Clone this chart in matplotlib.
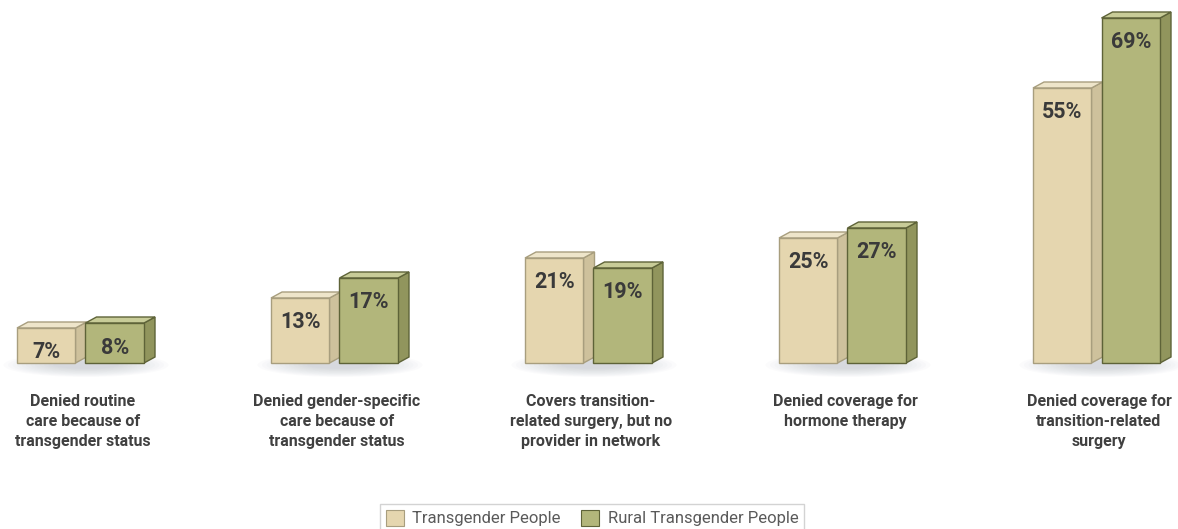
import matplotlib
matplotlib.use("Agg")
import matplotlib.pyplot as plt
from matplotlib.patches import Polygon, Ellipse, Patch
import numpy as np

categories = [
    "Denied routine\ncare because of\ntransgender status",
    "Denied gender-specific\ncare because of\ntransgender status",
    "Covers transition-\nrelated surgery, but no\nprovider in network",
    "Denied coverage for\nhormone therapy",
    "Denied coverage for\ntransition-related\nsurgery",
]
transgender = [7, 13, 21, 25, 55]
rural = [8, 17, 19, 27, 69]
series_names = ["Transgender People", "Rural Transgender People"]

FONT = ["Roboto", "DejaVu Sans"]

W, H = 1178, 529
fig = plt.figure(figsize=(W / 100, H / 100), dpi=100)
ax = fig.add_axes([0, 0, 1, 1])
PXX = 254.0   # pixels per group
PXY = 5.0     # pixels per percent
ax.set_xlim(-80 / PXX, (W - 80) / PXX)
ax.set_ylim(-(H - 363) / PXY, 363 / PXY)
ax.axis("off")

bw = 58.5 / PXX
dx = 11 / PXX
dy = 6 / PXY

styles = [
    dict(front="#E5D6AF", side="#CEC19C", top="#EEE5CA", edge="#A89E7E"),
    dict(front="#B2B67B", side="#91955D", top="#C8CC98", edge="#5E6338"),
]
offsets = [-63 / PXX, 5.5 / PXX]

x = np.arange(len(categories))

# soft shadows
for i in x:
    cx = i + 6 / PXX
    for k in range(12):
        ax.add_patch(Ellipse((cx, -0.4), width=(165 - k * 9) / PXX, height=(24 - k * 1.5) / PXY,
                             facecolor="#9aa3ad", edgecolor="none", alpha=0.035, zorder=1))

for s, (vals, st, off) in enumerate(zip([transgender, rural], styles, offsets)):
    lefts = x + off
    ax.bar(lefts, vals, width=bw, align="edge", color=st["front"], edgecolor=st["edge"],
           linewidth=1.0, zorder=3 + s * 2)
    for xl, h in zip(lefts, vals):
        xr = xl + bw
        side = Polygon([(xr, 0), (xr + dx, dy), (xr + dx, h + dy), (xr, h)], closed=True,
                       facecolor=st["side"], edgecolor=st["edge"], linewidth=1.0, zorder=2 + s * 2)
        top = Polygon([(xl, h), (xl + dx, h + dy), (xr + dx, h + dy), (xr, h)], closed=True,
                      facecolor=st["top"], edgecolor=st["edge"], linewidth=1.0, zorder=2 + s * 2)
        ax.add_patch(side)
        ax.add_patch(top)
        ax.text(xl + bw / 2, h - 4.9, f"{h}%", ha="center", va="center", fontsize=15.5,
                fontweight="bold", color="#3a3a3a", family=FONT, zorder=10)

for i, lab in zip(x, categories):
    ax.text(i + 3 / PXX, (363 - 394) / PXY, lab, ha="center", va="top", fontsize=11.5,
            fontweight="bold", color="#404040", family=FONT, linespacing=1.4)

handles = [Patch(facecolor=styles[0]["front"], edgecolor=styles[0]["edge"], linewidth=0.8),
           Patch(facecolor=styles[1]["front"], edgecolor=styles[1]["edge"], linewidth=0.8)]
leg = fig.legend(handles, series_names, loc="upper center", bbox_to_anchor=(592 / W, 1 - 504 / H),
                 ncol=2, frameon=True, fancybox=False, edgecolor="#c8c8c8",
                 prop=dict(family=FONT, size=12), labelcolor="#5a5a5a",
                 handlelength=1.1, handleheight=1.1, handletextpad=0.5, columnspacing=1.2,
                 borderpad=0.35, borderaxespad=0)
leg.get_frame().set_linewidth(1.0)

fig.savefig("out.png", dpi=100, facecolor="white")
